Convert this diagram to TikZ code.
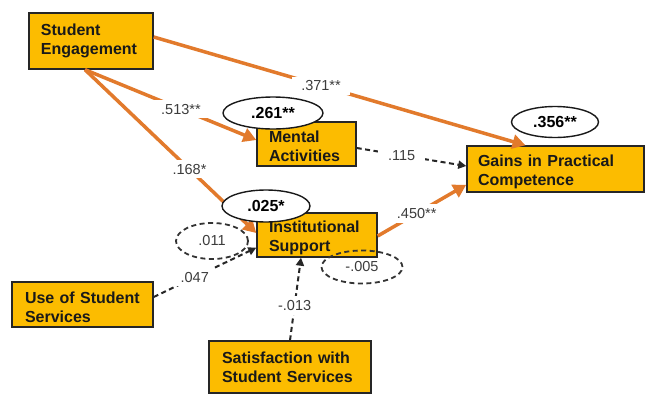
\documentclass[tikz,border=0pt]{standalone}
\usepackage{fontspec}
\setmainfont{Liberation Sans}
\usetikzlibrary{arrows.meta,shapes.geometric}
\definecolor{boxfill}{RGB}{252,188,0}
\definecolor{arr}{RGB}{226,122,44}
\definecolor{lblc}{RGB}{60,60,60}
\begin{document}
\begin{tikzpicture}[x=1pt,y=-1pt,
  box/.style={draw=black!85, line width=1.4pt, fill=boxfill, inner ysep=0pt,
    align=left, font=\bfseries\fontsize{16}{19}\selectfont, text=black!90},
  rbox/.style={draw=black!90, line width=1.4pt, fill=white, ellipse, inner sep=0pt,
    font=\bfseries\fontsize{16}{19}\selectfont},
  ebox/.style={draw=black!80, line width=1.8pt, dash pattern=on 5pt off 3.5pt, ellipse,
    inner sep=0pt, font=\fontsize{14.5}{17}\selectfont, text=lblc},
  lbl/.style={fill=white, inner xsep=6pt, inner ysep=4pt, font=\fontsize{14.5}{17}\selectfont, text=lblc},
  oarr/.style={draw=arr, line width=3.5pt, -{Triangle[length=13pt,width=14pt]}},
  darr/.style={draw=black!85, line width=2pt, dash pattern=on 5pt off 3.5pt,
    -{Triangle[length=8pt,width=8pt]}}
]
\useasboundingbox (0,0) rectangle (646,402);
\fill[white] (0,0) rectangle (646,402);

% boxes
\node[box, inner xsep=12pt, text width=100pt, minimum height=56pt] (se) at (91,41) {Student\\Engagement};
\node[box, text height=17pt, inner xsep=12pt, text width=75pt, minimum height=44pt] (ma) at (306.5,144) {Mental\\Activities};
\node[box, text height=18pt, inner xsep=11pt, text width=155pt, minimum height=46pt] (gp) at (555.5,169) {Gains in Practical\\Competence};
\node[box, text height=17pt, inner xsep=12pt, text width=96pt, minimum height=44pt] (is) at (317,235) {Institutional\\Support};
\node[box, text height=17pt, inner xsep=13pt, text width=115pt, minimum height=45pt] (us) at (82.5,304.5) {Use of Student\\Services};
\node[box, text height=13pt, inner xsep=13pt, text width=136pt, minimum height=52pt] (ss) at (290,367) {Satisfaction with\\Student Services};

% orange paths
\draw[oarr] ([yshift=4pt]se.east) -- node[lbl, pos=0.45, inner xsep=9pt] {.371**} ([xshift=-30pt]gp.north);
\draw[oarr] ([xshift=-6pt]se.south) -- node[lbl, pos=0.56, inner xsep=9pt] {.513**} ([yshift=4pt]ma.west);
\draw[oarr] ([xshift=-6pt]se.south) -- node[lbl, pos=0.61] {.168*} ([yshift=2pt]is.west);
\draw[oarr] ([yshift=-1pt]is.east) -- node[lbl, pos=0.44, inner xsep=9pt] {.450**} ([yshift=8pt]gp.south west);

% dashed paths
\draw[darr] ([yshift=-4pt]ma.east) -- node[lbl, pos=0.41, inner xsep=10pt] {.115} ([yshift=3pt]gp.west);
\draw[darr] ([yshift=7.5pt]us.east) -- node[lbl, pos=0.4] {.047} ([yshift=10pt]is.south west);
\draw[darr] (ss.north) -- node[lbl, pos=0.42] {-.013} ([xshift=-16pt]is.south);

% residual ellipses
\node[rbox, minimum width=100pt, minimum height=32pt] (r1) at (273,113) {.261**};
\node[rbox, minimum width=87pt, minimum height=31pt] (r2) at (555,122) {.356**};
\node[rbox, minimum width=88pt, minimum height=32pt] (r3) at (266,206) {.025*};
\node[ebox, minimum width=72pt, minimum height=36pt] (e1) at (212,241) {.011};
\node[ebox, minimum width=81pt, minimum height=33pt] (e2) at (362,267) {-.005};
\end{tikzpicture}
\end{document}
